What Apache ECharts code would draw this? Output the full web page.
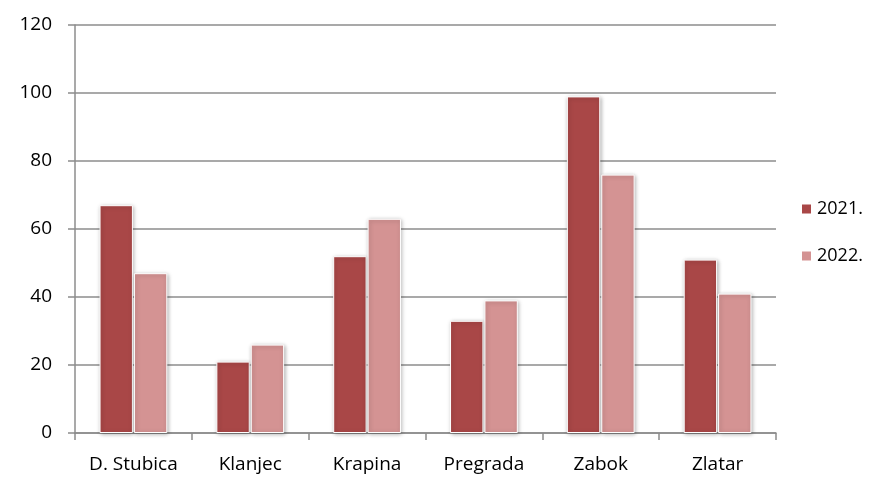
<!DOCTYPE html>
<html style="height: 100%">
<head>
    <meta charset="utf-8">
</head>
<body style="height: 100%; margin: 0; background: #fff">
    <div id="container" style="width: 874px; height: 489px"></div>
    <script type="text/javascript" src="https://cdn.jsdelivr.net/npm/echarts/dist/echarts.min.js"></script>
    <script type="text/javascript">
        var categories = ['D. Stubica', 'Klanjec', 'Krapina', 'Pregrada', 'Zabok', 'Zlatar'];
        var values2021 = [67, 21, 52, 33, 99, 51];
        var values2022 = [47, 26, 63, 39, 76, 41];

        var myChart = echarts.init(document.getElementById('container'));
        var font = 'Open Sans';

        function barSeries(name, data, color) {
            return {
                name: name,
                type: 'bar',
                data: data,
                barGap: '3%',
                barCategoryGap: '42%',
                itemStyle: {
                    color: color,
                    borderColor: '#ffffff',
                    borderWidth: 1,
                    shadowColor: 'rgba(0,0,0,0.3)',
                    shadowBlur: 4,
                    shadowOffsetX: 1,
                    shadowOffsetY: 1
                }
            };
        }

        var option = {
            animation: false,
            textStyle: { fontFamily: font },
            grid: { left: 75, right: 98, top: 25, bottom: 56 },
            legend: {
                orient: 'vertical',
                left: 795,
                top: 195,
                itemWidth: 11,
                itemHeight: 11,
                itemGap: 29,
                icon: 'rect',
                textStyle: { fontSize: 18, color: '#000', fontFamily: font },
                data: ['2021.', '2022.']
            },
            xAxis: {
                type: 'category',
                data: categories,
                axisLine: { lineStyle: { color: '#8c8c8c', width: 1.5 } },
                axisTick: { show: true, length: 7, lineStyle: { color: '#8c8c8c', width: 1.5 } },
                axisLabel: { color: '#000', fontSize: 19, margin: 22 }
            },
            yAxis: {
                type: 'value',
                min: 0,
                max: 120,
                interval: 20,
                axisLine: { show: true, lineStyle: { color: '#8c8c8c', width: 1.5 } },
                axisTick: { show: true, length: 7, lineStyle: { color: '#8c8c8c', width: 1.5 } },
                splitLine: { lineStyle: { color: '#8c8c8c', width: 1.5 } },
                axisLabel: { color: '#000', fontSize: 19, margin: 23 }
            },
            series: [
                barSeries('2021.', values2021, '#a94747'),
                barSeries('2022.', values2022, '#d49393')
            ]
        };
        myChart.setOption(option);
    </script>
</body>
</html>
